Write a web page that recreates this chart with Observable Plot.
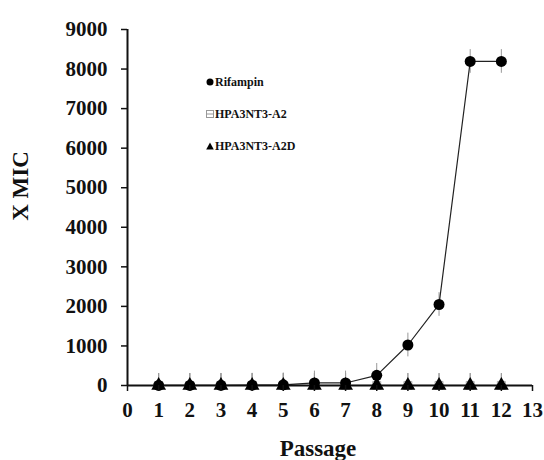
<!DOCTYPE html>
<html>
<head>
<meta charset="utf-8">
<script src="https://cdn.jsdelivr.net/npm/d3@7"></script>
<script src="https://cdn.jsdelivr.net/npm/@observablehq/plot@0.6"></script>
<style>
  body { margin: 0; background: #fff; }
  #wrap { position: relative; width: 544px; height: 460px; font-family: "Liberation Serif", "Times New Roman", serif; font-weight: bold; color: #111; }
  #legend { position: absolute; left: 206px; top: 66px; font-size: 12px; }
  #legend .item { display: flex; align-items: center; height: 32px; }
  #legend svg { margin-right: 1px; }
  .axlabel { position: absolute; font-size: 23px; white-space: nowrap; }
  #ylab { left: 21px; top: 186px; transform: translate(-50%, -50%) rotate(-90deg); }
  #xlab { left: 318px; top: 449px; transform: translate(-50%, -50%); }
</style>
</head>
<body>
<div id="wrap"><div id="legend"></div><div id="ylab" class="axlabel"></div><div id="xlab" class="axlabel"></div></div>
<script>
const passages = [1, 2, 3, 4, 5, 6, 7, 8, 9, 10, 11, 12];
const rifampin = [1, 2, 4, 8, 16, 64, 64, 256, 1024, 2048, 8192, 8192];
const a2 = [1, 1, 1, 1, 1, 1, 2, 2, 2, 2, 2, 2];
const a2d = [1, 1, 1, 1, 1, 1, 1, 1, 1, 1, 1, 1];
const errRifampin = [300, 300, 300, 300, 300, 300, 300, 300, 300, 300, 300, 300];
const errA2 = [300, 300, 300, 300, 300, 300, 300, 300, 300, 300, 300, 300];
const errA2D = [300, 300, 300, 300, 300, 300, 300, 300, 300, 300, 300, 300];
const seriesNames = ["Rifampin", "HPA3NT3-A2", "HPA3NT3-A2D"];
const xTicks = [0, 1, 2, 3, 4, 5, 6, 7, 8, 9, 10, 11, 12, 13];
const yTicks = [0, 1000, 2000, 3000, 4000, 5000, 6000, 7000, 8000, 9000];
const xTitle = "Passage";
const yTitle = "X MIC";

const mk = (vals, errs, name) => passages.map((p, i) => ({passage: p, value: vals[i], err: errs[i], series: name}));
const dRif = mk(rifampin, errRifampin, seriesNames[0]);
const dA2 = mk(a2, errA2, seriesNames[1]);
const dA2D = mk(a2d, errA2D, seriesNames[2]);
const all = [...dA2, ...dA2D, ...dRif];

const font = `"Liberation Serif", "Times New Roman", serif`;

const chart = Plot.plot({
  width: 544,
  height: 460,
  marginLeft: 127,
  marginRight: 12,
  marginTop: 29,
  marginBottom: 75,
  style: {fontFamily: font, fontWeight: "bold", color: "#111", background: "transparent"},
  x: {domain: [0, 13]},
  y: {domain: [0, 9000]},
  marks: [
    Plot.ruleX(all, {x: "passage", y1: d => Math.max(0, d.value - d.err), y2: d => d.value + d.err, stroke: "#999", strokeWidth: 1}),
    Plot.line(dA2, {x: "passage", y: "value", stroke: "#aaa", strokeWidth: 1}),
    Plot.dot(dA2, {x: "passage", y: "value", symbol: "square", r: 4.5, stroke: "#aaa", fill: "white", strokeWidth: 1}),
    Plot.line(dRif, {x: "passage", y: "value", stroke: "#222", strokeWidth: 1.2}),
    Plot.dot(dRif, {x: "passage", y: "value", symbol: "circle", r: 5.5, fill: "black", stroke: "none"}),
    Plot.ruleY([0], {stroke: "#111", strokeWidth: 2}),
    Plot.ruleX([0], {stroke: "#111", strokeWidth: 2}),
    Plot.line(dA2D, {x: "passage", y: "value", stroke: "#111", strokeWidth: 1}),
    Plot.dot(dA2D, {x: "passage", y: "value", symbol: "triangle", r: 5.5, fill: "black", stroke: "none"}),
    Plot.axisY({ticks: yTicks, tickSize: 6, tickPadding: 14, tickFormat: d => String(d), fontSize: 21, label: null, strokeWidth: 1.5}),
    Plot.axisX({ticks: xTicks, tickSize: 6, tickPadding: 11, tickFormat: d => String(d), fontSize: 21, label: null, strokeWidth: 1.5})
  ]
});
chart.style.position = "absolute";
chart.style.left = "0";
chart.style.top = "0";
const wrap = document.getElementById("wrap");
wrap.insertBefore(chart, wrap.firstChild);
document.getElementById("xlab").textContent = xTitle;
document.getElementById("ylab").textContent = yTitle;

const legend = document.getElementById("legend");
const icons = [
  '<svg width="8" height="8"><circle cx="4" cy="4" r="3.5" fill="black"/></svg>',
  '<svg width="8" height="8"><rect x="0.5" y="0.5" width="7" height="7" fill="white" stroke="#999"/><line x1="0.5" y1="4" x2="7.5" y2="4" stroke="#999"/></svg>',
  '<svg width="8" height="8"><path d="M4 0.5 L7.8 7.5 L0.2 7.5 Z" fill="black"/></svg>'
];
seriesNames.forEach((n, i) => {
  const div = document.createElement("div");
  div.className = "item";
  div.innerHTML = icons[i] + "<span>" + n + "</span>";
  legend.appendChild(div);
});
</script>
</body>
</html>
